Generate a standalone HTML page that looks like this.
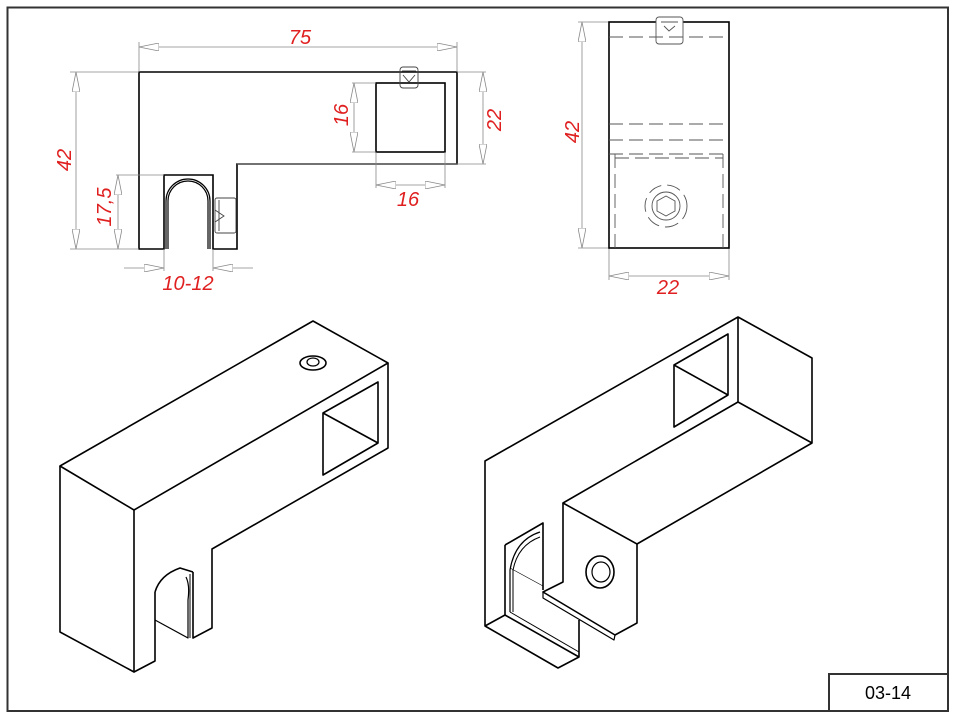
<!DOCTYPE html>
<html><head><style>html,body{margin:0;padding:0;background:#fff}svg{display:block}</style></head><body>
<svg width="957" height="719" viewBox="0 0 957 719" xmlns="http://www.w3.org/2000/svg" font-family="Liberation Sans, sans-serif">
<rect x="0" y="0" width="957" height="719" fill="#fff"/>
<rect x="7.5" y="7.5" width="940.5" height="703.5" fill="none" stroke="#333" stroke-width="2"/>
<rect x="829" y="674" width="119" height="37" fill="#fff" stroke="#333" stroke-width="2"/>
<text x="888" y="699" font-size="18" text-anchor="middle" fill="#000">03-14</text>

<defs>
<marker id="ar" viewBox="0 0 20 8" refX="20" refY="4" markerWidth="20" markerHeight="8" markerUnits="userSpaceOnUse" orient="auto-start-reverse">
<path d="M0,0 L20,4 L0,8 Z" fill="#fff" stroke="#888" stroke-width="0.8"/></marker>
</defs>

<!-- Front view -->
<g fill="none" stroke="#000" stroke-width="1.6">
<path d="M139,72 H457 V164 H237 V249 H213 V175 H164 V249 H139 Z"/>
<path d="M168,249 V201 A20,20 0 0 1 208,201 V249" stroke-width="1.2"/>
<path d="M166,249 V201 A22,22 0 0 1 210,201 V249" stroke-width="1.2"/>
<rect x="376" y="83" width="69" height="69"/>
</g>
<g fill="none" stroke="#444" stroke-width="0.9">
<rect x="400" y="67" width="18" height="21" rx="3"/>
<path d="M402,71 H416 M403,75 L409,82 L415,75"/>
<rect x="215" y="198" width="21" height="35" rx="2"/>
<path d="M219,200 V231 M215,210 L224,216 L215,222"/>
</g>
<g stroke="#888" stroke-width="0.8" fill="none">
<line x1="139" y1="42" x2="139" y2="72"/><line x1="457" y1="42" x2="457" y2="72"/>
<line x1="139" y1="47" x2="457" y2="47" marker-start="url(#ar)" marker-end="url(#ar)"/>
<line x1="70" y1="72" x2="139" y2="72"/><line x1="70" y1="249" x2="139" y2="249"/>
<line x1="76" y1="72" x2="76" y2="249" marker-start="url(#ar)" marker-end="url(#ar)"/>
<line x1="116" y1="175" x2="164" y2="175"/>
<line x1="118" y1="175" x2="118" y2="249" marker-start="url(#ar)" marker-end="url(#ar)"/>
<line x1="457" y1="72" x2="486" y2="72"/><line x1="237" y1="164" x2="486" y2="164"/>
<line x1="483" y1="72" x2="483" y2="164" marker-start="url(#ar)" marker-end="url(#ar)"/>
<line x1="352" y1="83" x2="376" y2="83"/><line x1="352" y1="152" x2="376" y2="152"/>
<line x1="354" y1="83" x2="354" y2="152" marker-start="url(#ar)" marker-end="url(#ar)"/>
<line x1="376" y1="152" x2="376" y2="188"/><line x1="445" y1="152" x2="445" y2="188"/>
<line x1="376" y1="185" x2="445" y2="185" marker-start="url(#ar)" marker-end="url(#ar)"/>
<line x1="164" y1="249" x2="164" y2="271"/><line x1="213" y1="249" x2="213" y2="271"/>
<line x1="124" y1="268" x2="164" y2="268" marker-end="url(#ar)"/>
<line x1="253" y1="268" x2="213" y2="268" marker-end="url(#ar)"/>
<line x1="578" y1="22" x2="609" y2="22"/><line x1="578" y1="248" x2="609" y2="248"/>
<line x1="582" y1="22" x2="582" y2="248" marker-start="url(#ar)" marker-end="url(#ar)"/>
<line x1="609" y1="248" x2="609" y2="280"/><line x1="729" y1="248" x2="729" y2="280"/>
<line x1="609" y1="276" x2="729" y2="276" marker-start="url(#ar)" marker-end="url(#ar)"/>
</g>
<g fill="#e02020" font-style="italic" font-size="20" text-anchor="middle">
<text x="300" y="44">75</text>
<text transform="translate(71,160) rotate(-90)">42</text>
<text transform="translate(111,207) rotate(-90)">17,5</text>
<text transform="translate(501,120) rotate(-90)">22</text>
<text transform="translate(348,115) rotate(-90)">16</text>
<text x="408" y="206">16</text>
<text x="188" y="290">10-12</text>
<text transform="translate(579,132) rotate(-90)">42</text>
<text x="668" y="294">22</text>
</g>

<!-- Side view -->
<g fill="none" stroke="#000">
<rect x="609" y="22" width="120" height="226" stroke-width="1.6"/>
</g>
<g fill="none" stroke="#555" stroke-width="0.9">
<rect x="656" y="17" width="27" height="27" rx="3" fill="#fff"/>
<path d="M661,22 H678 M664,26 L669,31 L675,26"/>
<path d="M609,37 H729 M609,124 H729 M609,140 H729 M609,154 H729 M615,158 H723 M615,154 V248 M723,154 V248" stroke-dasharray="14,6"/>
<circle cx="666" cy="206" r="21" stroke-dasharray="14,6"/>
<circle cx="666" cy="206" r="14"/>
<path d="M666,196 L675,201 L675,211 L666,216 L657,211 L657,201 Z"/>
</g>

<!-- Left iso -->
<g fill="none" stroke="#000" stroke-width="1.6" stroke-linejoin="round">
<path d="M60,466 L313,321 L388,363 L134,510 Z"/>
<path d="M388,363 V448 L212,549 V628 L193,638 V572"/>
<path d="M60,466 V632 L134,672 V510"/>
<path d="M134,672 L155,661 V592"/>
<path d="M155,592 Q160,575 180,568 L193,572"/>
<path d="M186,577 Q190,585 188,600 V638 L155,620" stroke-width="1.2"/>
<path d="M190,574 V638" stroke-width="1"/>
<path d="M323,413 L378,382 V443 L323,475 Z"/>
<path d="M323,413 L378,443"/>
<ellipse cx="313" cy="363" rx="13" ry="7"/>
<ellipse cx="313" cy="362" rx="6" ry="4" stroke-width="1.2"/>
</g>

<!-- Right iso -->
<g fill="none" stroke="#000" stroke-width="1.6" stroke-linejoin="round">
<path d="M738,317 L812,358 V443 L738,402 Z"/>
<path d="M738,317 L485,461 V626 L558,668 L579,657 V620"/>
<path d="M738,402 L563,503 L637,544 L812,443"/>
<path d="M563,503 V582 L543,592 L615,635 L637,623 V544"/>
<path d="M543,592 V598 L614,640 L615,635" stroke-width="1.2"/>
<path d="M674,365 L728,334 V395 L674,427 Z"/>
<path d="M674,365 L728,395"/>
<path d="M505,545 L543,523 V590"/>
<path d="M505,545 V615 L485,626"/>
<path d="M505,615 L579,657"/>
<path d="M510,612 V570 Q515,540 540,532" stroke-width="1.2"/>
<path d="M513,612 V570 Q518,545 540,537" stroke-width="1"/>
<path d="M510,612 L579,652" stroke-width="1"/>
<ellipse cx="600" cy="572" rx="14" ry="16"/>
<ellipse cx="601" cy="572" rx="9" ry="10" stroke-width="1.2"/>
</g>
<line x1="510" y1="568" x2="543" y2="586" stroke="#000" stroke-width="0.6"/>
</svg>
</body></html>
